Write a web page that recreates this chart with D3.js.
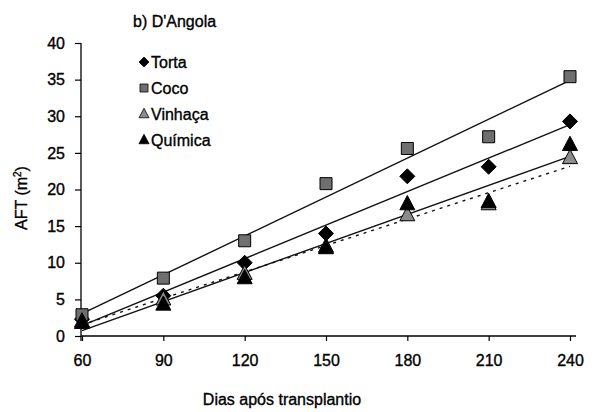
<!DOCTYPE html>
<html><head><meta charset="utf-8">
<script src="https://cdn.jsdelivr.net/npm/d3@7"></script>
<style>
body{margin:0;background:#fff;}
text{font-family:"Liberation Sans",Arial,sans-serif;fill:#000;stroke:#000;stroke-width:0.35px;}
</style></head>
<body><svg id="c" width="594" height="412"></svg>
<script>
const days = [60, 90, 120, 150, 180, 210, 240];
const torta = [2.3, 5.5, 10.0, 14.0, 21.8, 23.1, 29.3];
const coco = [2.9, 7.9, 13.0, 20.8, 25.6, 27.2, 35.4];
const vinhaca = [2.0, 5.0, 8.5, 12.2, 16.5, 18.0, 24.3];
const quimica = [1.8, 4.3, 7.9, 12.0, 18.0, 18.3, 26.1];
const seriesNames = ["Torta", "Coco", "Vinhaça", "Química"];
const yTicks = [0, 5, 10, 15, 20, 25, 30, 35, 40];
const title = "b) D'Angola";

const svg = d3.select("#c");
const x = d3.scaleLinear().domain([60, 240]).range([82, 570]);
const y = d3.scaleLinear().domain([0, 40]).range([336, 43]);

const series = [
  {name: seriesNames[0], vals: torta, shape: "diamond", fill: "#000", dash: null},
  {name: seriesNames[1], vals: coco, shape: "square", fill: "#6f6f6f", dash: null},
  {name: seriesNames[2], vals: vinhaca, shape: "triangle", fill: "#8c8c8c", dash: "3,5"},
  {name: seriesNames[3], vals: quimica, shape: "triangle", fill: "#000", dash: null}
];

function fit(xs, ys) {
  const mx = d3.mean(xs), my = d3.mean(ys);
  let sxy = 0, sxx = 0;
  xs.forEach((v, i) => { sxy += (v - mx) * (ys[i] - my); sxx += (v - mx) * (v - mx); });
  const b = sxy / sxx, a = my - b * mx;
  return v => a + b * v;
}

const yAxis = d3.axisLeft(y).tickValues(yTicks).tickSize(6).tickPadding(10);
const gy = svg.append("g").attr("transform", "translate(81,0)").call(yAxis);
gy.select(".domain").attr("d", `M0,${y(40)}V${y(0) + 5}`).attr("stroke", "#000").attr("stroke-width", 1.3);
gy.selectAll(".tick line").attr("stroke-width", 1.2);
gy.selectAll("text").attr("font-size", 16).attr("font-family", "Liberation Sans, Arial");

const xAxis = d3.axisBottom(x).tickValues(days).tickSize(5).tickPadding(14);
const gx = svg.append("g").attr("transform", "translate(0,336)").call(xAxis);
gx.select(".domain").attr("d", "M81,0H576").attr("stroke", "#000").attr("stroke-width", 1.5);
gx.selectAll(".tick line").attr("stroke-width", 1.2);
gx.selectAll("text").attr("font-size", 16).attr("font-family", "Liberation Sans, Arial");

series.forEach(s => {
  const f = fit(days, s.vals);
  svg.append("line")
    .attr("x1", x(60)).attr("y1", y(f(60)))
    .attr("x2", x(240)).attr("y2", y(f(240)))
    .attr("stroke", "#111").attr("stroke-width", 1.4)
    .attr("stroke-dasharray", s.dash);
});

function shapePath(shape, r) {
  if (shape === "diamond") return `M0,${-r}L${r},0L0,${r}L${-r},0Z`;
  if (shape === "square") return `M${-r * 0.8},${-r * 0.8}H${r * 0.8}V${r * 0.8}H${-r * 0.8}Z`;
  return `M0,${-r * 1.15}L${r},${r * 0.75}L${-r},${r * 0.75}Z`;
}

series.forEach(s => {
  svg.append("g").selectAll("path").data(s.vals).join("path")
    .attr("transform", (d, i) => `translate(${x(days[i])},${y(d)})`)
    .attr("d", shapePath(s.shape, 7.5))
    .attr("fill", s.fill).attr("stroke", "#000").attr("stroke-width", 1);
});

svg.append("text").attr("x", 133).attr("y", 27).attr("font-size", 16).text(title);
series.forEach((s, i) => {
  const cy = 62 + i * 26;
  svg.append("path").attr("transform", `translate(144,${cy})`)
    .attr("d", shapePath(s.shape, 5)).attr("fill", s.fill).attr("stroke", "#000").attr("stroke-width", 0.8);
  svg.append("text").attr("x", 151).attr("y", cy + 6).attr("font-size", 16).text(s.name);
});

svg.append("text").attr("x", 282).attr("y", 405).attr("text-anchor", "middle").attr("font-size", 16)
  .text("Dias após transplantio");
const yt = svg.append("text").attr("transform", "translate(27,198) rotate(-90)")
  .attr("text-anchor", "middle").attr("font-size", 16);
yt.append("tspan").text("AFT (m");
yt.append("tspan").attr("font-size", 10).attr("dy", -6).text("2");
yt.append("tspan").attr("dy", 6).text(")");
</script></body></html>
